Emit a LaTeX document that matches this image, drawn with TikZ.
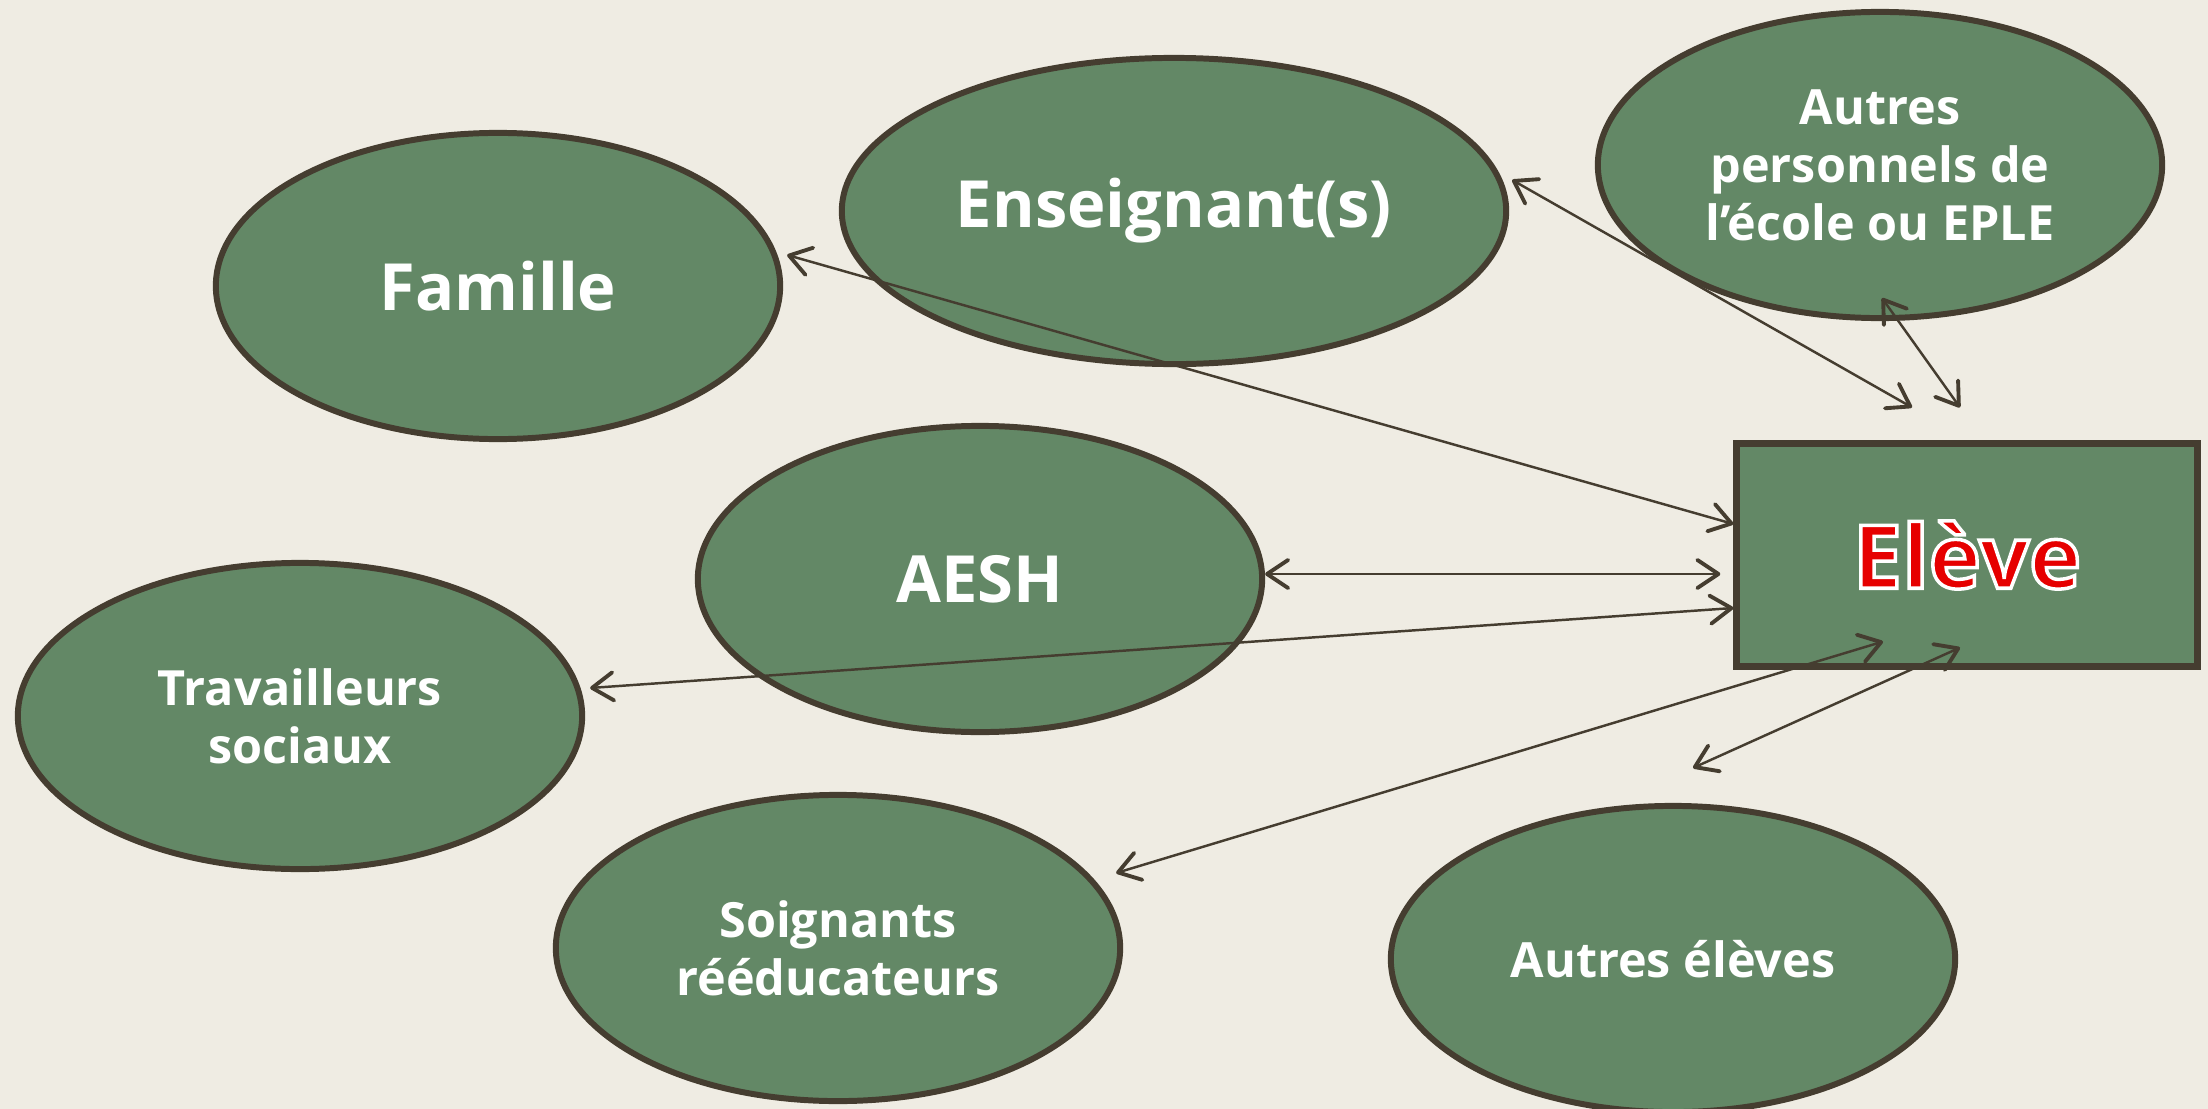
\documentclass[tikz,border=0pt]{standalone}
\usepackage{fontspec}
\setmainfont{Open Sans}
\usetikzlibrary{shapes.geometric}
\usetikzlibrary{arrows.meta}
\usetikzlibrary{calc}

\definecolor{fond}{RGB}{239,236,227}
\definecolor{vert}{RGB}{99,136,102}
\definecolor{brun}{RGB}{69,61,48}
\definecolor{rouge}{RGB}{230,0,0}

\newcommand{\contourblanc}[1]{\special{pdf:code q 2 Tr 1 1 1 RG 1.0 w}#1\special{pdf:code Q}}

\tikzset{
    bulle/.style={ellipse, draw=brun, line width=1.7pt, fill=vert, text=white,
        minimum width=5.64cm, minimum height=3.06cm, inner sep=0pt, align=center},
    grand/.style={font=\fontsize{18.5}{22}\selectfont\bfseries},
    petit/.style={font=\fontsize{13.8}{16.5}\selectfont\bfseries},
    lien/.style={draw=brun, line width=0.7pt,
        {Straight Barb[length=6pt,width=8pt,line width=1.1pt,round]}-{Straight Barb[length=6pt,width=8pt,line width=1.1pt,round]}},
    motel/.style={font=\fontsize{25}{30}\selectfont\bfseries, text=rouge}
}

\begin{document}
\begin{tikzpicture}[x=0.01cm, y=-0.01cm]
    \fill[fond] (0, 0) rectangle (2208, 1109);
    \useasboundingbox (0, 0) rectangle (2208, 1109);

    \node[bulle, grand] (famille) at (498, 286) {Famille};
    \node[bulle, grand, minimum width=6.64cm] (enseignant) at (1174, 211) {Enseignant(s)};
    \node[bulle, petit] (personnels) at (1880, 165) {Autres\\personnels de\\l’école ou EPLE};
    \node[bulle, grand] (aesh) at (980, 579) {AESH};
    \node[bulle, petit] (travailleurs) at (300, 716) {Travailleurs\\sociaux};
    \node[bulle, petit] (soignants) at (838, 948) {Soignants\\rééducateurs};
    \node[bulle, petit] (eleves) at (1673, 959) {Autres élèves};

    \node[draw=brun, line width=2pt, fill=vert, minimum width=4.6cm, minimum height=2.22cm] (eleve) at (1967, 555) {};
    \node[motel] (nom) at (eleve) {\contourblanc{Elève}};

    \draw[lien] ($(famille.east)+(4, -31)$) -- ($(eleve.west)+(0, -31)$);
    \draw[lien] ($(enseignant.east)+(3, -31)$) -- ($(eleve.north)+(-55, -33)$);
    \draw[lien] ($(personnels.south)+(2, -23)$) -- ($(eleve.north)+(-7, -33)$);
    \draw[lien] ($(aesh.east)+(0, -5)$) -- ($(eleve.west)+(-13, 19)$);
    \draw[lien] ($(travailleurs.east)+(5, -28)$) -- ($(eleve.west)+(0, 53)$);
    \draw[lien] ($(soignants.east)+(-7, -75)$) -- ($(eleve.south)+(-84, -28)$);
    \draw[lien] ($(eleves.north)+(20, -35)$) -- ($(eleve.south)+(-7, -22)$);
\end{tikzpicture}
\end{document}
